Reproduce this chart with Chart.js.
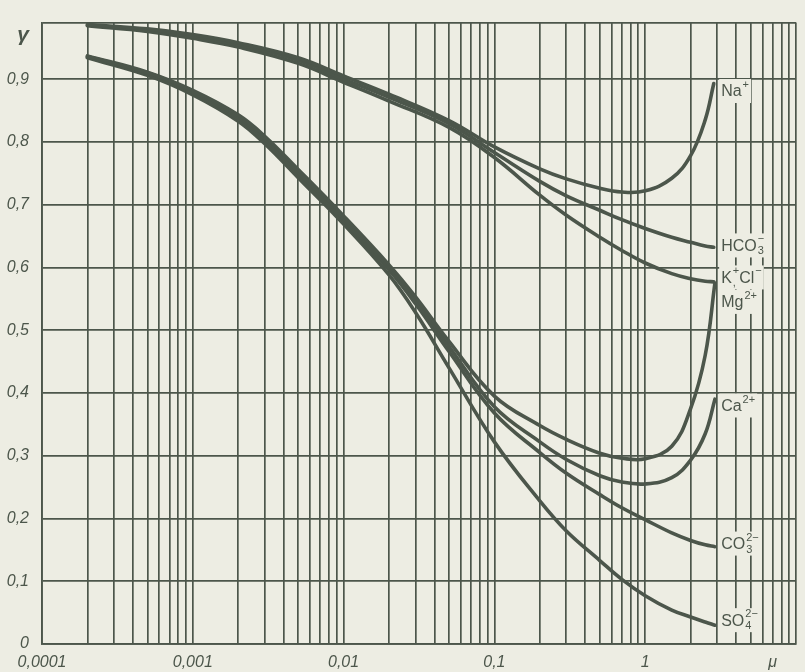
<!DOCTYPE html>
<html>
<head>
<meta charset="utf-8">
<script src="https://cdn.jsdelivr.net/npm/chart.js@4.4.1/dist/chart.umd.min.js"></script>
<style>
  html, body { margin: 0; padding: 0; background: #edede3; }
  #wrap { width: 805px; height: 672px; }
</style>
</head>
<body>
<div id="wrap"><canvas id="chart" width="805" height="672"></canvas></div>
<script>
// ionic strength values (mu) for the two families of curves
const muUpper = [0.0002, 0.0005, 0.001, 0.002, 0.005, 0.01, 0.02, 0.05, 0.1, 0.2, 0.3, 0.5, 0.7, 1, 1.5, 2, 2.5, 2.85];
const gammaNa   = [0.987, 0.980, 0.971, 0.958, 0.934, 0.905, 0.876, 0.834, 0.792, 0.757, 0.741, 0.726, 0.720, 0.722, 0.742, 0.778, 0.835, 0.893];
const gammaHCO3 = [0.986, 0.978, 0.968, 0.955, 0.930, 0.900, 0.871, 0.829, 0.783, 0.737, 0.714, 0.691, 0.676, 0.662, 0.648, 0.640, 0.634, 0.632];
const gammaKCl  = [0.985, 0.976, 0.965, 0.951, 0.925, 0.895, 0.865, 0.823, 0.775, 0.715, 0.683, 0.648, 0.627, 0.607, 0.590, 0.582, 0.578, 0.577];

const muLower = [0.0002, 0.0005, 0.001, 0.002, 0.003, 0.005, 0.01, 0.02, 0.03, 0.05, 0.1, 0.2, 0.3, 0.5, 0.7, 1, 1.5, 2, 2.5, 2.9];
const gammaMg  = [0.937, 0.911, 0.882, 0.843, 0.809, 0.756, 0.682, 0.604, 0.553, 0.482, 0.395, 0.348, 0.326, 0.304, 0.296, 0.295, 0.315, 0.375, 0.46, 0.575];
const gammaCa  = [0.936, 0.910, 0.880, 0.840, 0.805, 0.752, 0.678, 0.600, 0.547, 0.474, 0.378, 0.322, 0.294, 0.268, 0.258, 0.255, 0.265, 0.293, 0.335, 0.39];
const gammaCO3 = [0.935, 0.908, 0.878, 0.837, 0.801, 0.748, 0.674, 0.596, 0.542, 0.466, 0.368, 0.305, 0.272, 0.238, 0.217, 0.198, 0.177, 0.165, 0.158, 0.155];
const gammaSO4 = [0.934, 0.906, 0.875, 0.833, 0.797, 0.743, 0.669, 0.588, 0.528, 0.440, 0.322, 0.228, 0.180, 0.133, 0.103, 0.077, 0.054, 0.043, 0.035, 0.030];

// axis ticks
const xTickValues = [0.0001, 0.001, 0.01, 0.1, 1];
const xTickLabels = ['0,0001', '0,001', '0,01', '0,1', '1'];
const xTitle = 'μ', xTitleAt = 7;
const yTickValues = [0, 0.1, 0.2, 0.3, 0.4, 0.5, 0.6, 0.7, 0.8, 0.9];
const yTickLabels = ['0', '0,1', '0,2', '0,3', '0,4', '0,5', '0,6', '0,7', '0,8', '0,9'];
const yTitle = 'γ', yTitleAt = 0.97;

// curve labels: [text, 'n' | 'sup' | sub text stacked under the sup]
const ionLabels = [
    { gamma: 0.881, parts: [['Na', 'n'], ['+', 'sup']] },
    { gamma: 0.635, parts: [['HCO', 'n'], ['−', '3']] },
    { gamma: 0.584, parts: [['K', 'n'], ['+', ','], ['Cl', 'n'], ['−', 'sup']] },
    { gamma: 0.545, parts: [['Mg', 'n'], ['2+', 'sup']] },
    { gamma: 0.38,  parts: [['Ca', 'n'], ['2+', 'sup']] },
    { gamma: 0.16,  parts: [['CO', 'n'], ['2−', '3']] },
    { gamma: 0.038, parts: [['SO', 'n'], ['2−', '4']] }
];

const ink = '#4c564b';
const paper = '#edede3';
const tickFont = { family: "'Liberation Sans', Arial, sans-serif", size: 16, style: 'italic' };

function pairs(xs, ys) {
    return xs.map((x, i) => ({ x: x, y: ys[i] }));
}

function curve(xs, ys) {
    return {
        data: pairs(xs, ys),
        borderColor: ink,
        borderWidth: 3.6,
        pointRadius: 0,
        fill: false,
        tension: 0.4,
        borderCapStyle: 'round'
    };
}

const paperBackground = {
    id: 'paperBackground',
    beforeDraw(chart) {
        const ctx = chart.ctx;
        ctx.save();
        ctx.fillStyle = paper;
        ctx.fillRect(0, 0, chart.width, chart.height);
        ctx.restore();
    }
};

const curveLabels = {
    id: 'curveLabels',
    afterDatasetsDraw(chart) {
        const ctx = chart.ctx;
        const xs = chart.scales.x, ys = chart.scales.y;
        const big = "16px 'Liberation Sans', Arial, sans-serif";
        const small = "11px 'Liberation Sans', Arial, sans-serif";
        ctx.save();
        ctx.textBaseline = 'middle';
        ionLabels.forEach(lab => {
            const x0 = xs.getPixelForValue(3) + 4;
            const y = ys.getPixelForValue(lab.gamma);
            // measure first so the label can sit on a paper-coloured patch
            let w = 0;
            lab.parts.forEach(([t, m]) => {
                if (m === 'n') { ctx.font = big; w += ctx.measureText(t).width; }
                else {
                    ctx.font = small;
                    const a = ctx.measureText(t).width;
                    const b = (m === 'sup') ? 0 : ctx.measureText(m).width;
                    w += Math.max(a, b) + 1;
                }
            });
            ctx.fillStyle = paper;
            ctx.fillRect(x0 - 2, y - 12, w + 4, 24);
            ctx.fillStyle = ink;
            let x = x0;
            lab.parts.forEach(([t, m]) => {
                if (m === 'n') {
                    ctx.font = big;
                    ctx.fillText(t, x, y + 1);
                    x += ctx.measureText(t).width;
                } else {
                    ctx.font = small;
                    ctx.fillText(t, x + 1, y - 6);
                    let adv = ctx.measureText(t).width;
                    if (m !== 'sup') {
                        ctx.fillText(m, x + 1, y + 6);
                        adv = Math.max(adv, ctx.measureText(m).width);
                    }
                    x += adv + 1;
                }
            });
        });
        ctx.restore();
    }
};

new Chart(document.getElementById('chart').getContext('2d'), {
    type: 'line',
    data: {
        datasets: [
            curve(muUpper, gammaNa),
            curve(muUpper, gammaHCO3),
            curve(muUpper, gammaKCl),
            curve(muLower, gammaMg),
            curve(muLower, gammaCa),
            curve(muLower, gammaCO3),
            curve(muLower, gammaSO4)
        ]
    },
    options: {
        responsive: false,
        animation: false,
        devicePixelRatio: 1,
        layout: { padding: { top: 14, right: 5, left: 0, bottom: 0 } },
        plugins: {
            legend: { display: false },
            tooltip: { enabled: false }
        },
        scales: {
            x: {
                type: 'logarithmic',
                min: 0.0001,
                max: 10,
                afterBuildTicks(scale) {
                    const ticks = [];
                    for (let e = -4; e <= 0; e++) {
                        for (let m = 1; m <= 9; m++) {
                            ticks.push({ value: parseFloat(m + 'e' + e) });
                        }
                    }
                    ticks.push({ value: 10 });
                    scale.ticks = ticks;
                },
                afterFit(scale) { scale.height = 28; },
                grid: { color: ink, lineWidth: 1.7, drawTicks: false },
                border: { color: ink, width: 1.8 },
                ticks: {
                    autoSkip: false,
                    maxRotation: 0,
                    padding: 9,
                    color: ink,
                    font: tickFont,
                    callback(value) {
                        if (Math.abs(value - xTitleAt) < 1e-9) return xTitle;
                        const i = xTickValues.findIndex(v => Math.abs(v - value) / v < 1e-6);
                        return i >= 0 ? xTickLabels[i] : '';
                    }
                }
            },
            y: {
                type: 'linear',
                min: 0,
                max: 0.99,
                afterBuildTicks(scale) {
                    const ticks = yTickValues.map(v => ({ value: v }));
                    ticks.push({ value: yTitleAt });
                    ticks.push({ value: 0.99 });
                    scale.ticks = ticks;
                },
                afterFit(scale) { scale.width = 42; },
                grid: {
                    lineWidth: 1.7,
                    drawTicks: false,
                    color(ctx) {
                        return (ctx.tick && ctx.tick.value === yTitleAt) ? 'rgba(0,0,0,0)' : ink;
                    }
                },
                border: { color: ink, width: 1.8 },
                ticks: {
                    autoSkip: false,
                    padding: 13,
                    color: ink,
                    font(ctx) {
                        if (ctx.tick && ctx.tick.value === yTitleAt) {
                            return { family: tickFont.family, size: 21, style: 'italic', weight: 'bold' };
                        }
                        return tickFont;
                    },
                    callback(value) {
                        if (value === yTitleAt) return yTitle;
                        const i = yTickValues.findIndex(v => Math.abs(v - value) < 1e-9);
                        return i >= 0 ? yTickLabels[i] : '';
                    }
                }
            }
        }
    },
    plugins: [paperBackground, curveLabels]
});
</script>
</body>
</html>
